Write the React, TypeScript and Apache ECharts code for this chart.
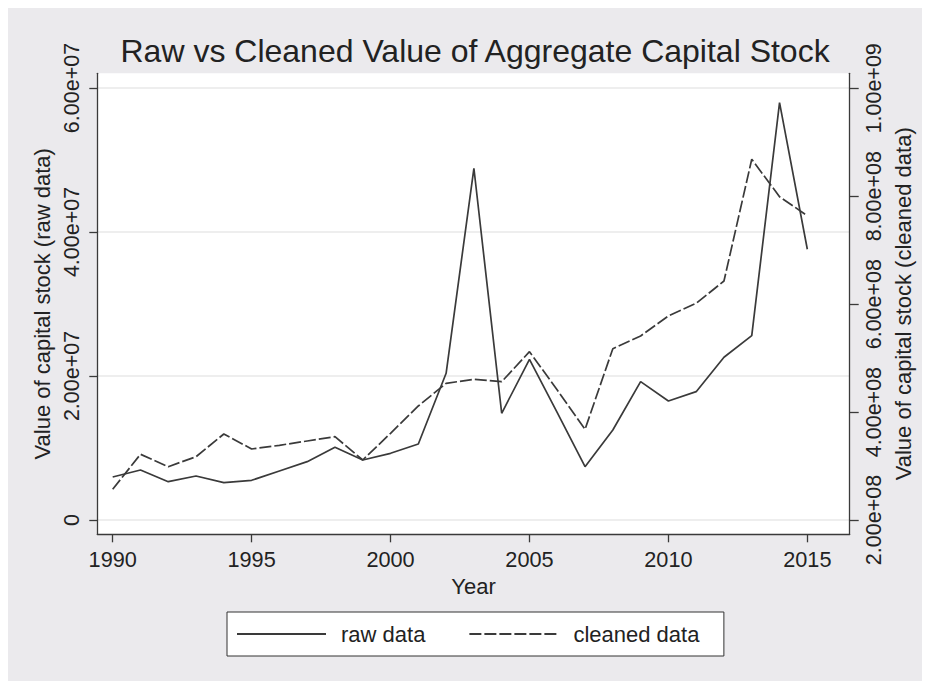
import React, { useEffect, useRef } from "react";
import * as echarts from "echarts";

const years = [1990, 1991, 1992, 1993, 1994, 1995, 1996, 1997, 1998, 1999, 2000, 2001, 2002, 2003, 2004, 2005, 2006, 2007, 2008, 2009, 2010, 2011, 2012, 2013, 2014, 2015];

const rawData = [5.97e6, 6.94e6, 5.32e6, 6.11e6, 5.18e6, 5.51e6, 6.81e6, 8.1e6, 10.1e6, 8.33e6, 9.26e6, 10.56e6, 20.37e6, 48.85e6, 14.82e6, 22.32e6, 14.9e6, 7.4e6, 12.5e6, 19.21e6, 16.53e6, 17.82e6, 22.6e6, 25.6e6, 57.96e6, 37.6e6];

const cleanedData = [2.569e8, 3.218e8, 2.988e8, 3.173e8, 3.594e8, 3.316e8, 3.384e8, 3.464e8, 3.544e8, 3.112e8, 3.607e8, 4.113e8, 4.533e8, 4.607e8, 4.563e8, 5.119e8, 4.409e8, 3.681e8, 5.175e8, 5.41e8, 5.781e8, 6.016e8, 6.429e8, 8.685e8, 7.991e8, 7.639e8];

const xTicks = [1990, 1995, 2000, 2005, 2010, 2015];
const leftTicks = [0, 2e7, 4e7, 6e7];
const leftTickLabels = ["0", "2.00e+07", "4.00e+07", "6.00e+07"];
const rightTicks = [2e8, 4e8, 6e8, 8e8, 1e9];
const rightTickLabels = ["2.00e+08", "4.00e+08", "6.00e+08", "8.00e+08", "1.00e+09"];

const seriesNames = ["raw data", "cleaned data"];
const titleText = "Raw vs Cleaned Value of Aggregate Capital Stock";
const xTitle = "Year";
const leftTitle = "Value of capital stock (raw data)";
const rightTitle = "Value of capital stock (cleaned data)";

const FONT = "'Liberation Sans', Arial, Helvetica, sans-serif";
const TEXT = "#222222";
const AXIS = "#3a3a3a";
const LINE = "#3a3a3a";

function labelFor(ticks: number[], labels: string[]) {
  return (v: number) => {
    const i = ticks.findIndex((t) => Math.abs(t - v) < Math.abs(t) * 1e-9 + 1e-6);
    return i >= 0 ? labels[i] : "";
  };
}

export default function App() {
  const ref = useRef<HTMLDivElement>(null);
  useEffect(() => {
    if (!ref.current) return;
    const chart = echarts.init(ref.current, undefined, { renderer: "svg" });
    const option: any = {
      animation: false,
      backgroundColor: "#ebeaed",
      textStyle: { fontFamily: FONT },
      title: {
        text: titleText,
        left: 112.5,
        top: 27.3,
        padding: 0,
        textStyle: { fontFamily: FONT, fontSize: 32, fontWeight: "normal", color: TEXT },
      },
      grid: {
        left: 89.3,
        right: 80.3,
        top: 65.3,
        bottom: 146.7,
        show: true,
        backgroundColor: "#ffffff",
        borderWidth: 0,
        outerBoundsMode: "none",
        containLabel: false,
      },
      legend: {
        left: 219,
        top: 604,
        orient: "horizontal",
        data: seriesNames,
        itemWidth: 89,
        itemHeight: 14,
        itemGap: 43,
        padding: [11, 24.5, 11, 9],
        backgroundColor: "#ffffff",
        borderColor: "#333333",
        borderWidth: 1,
        borderRadius: 0,
        itemStyle: { opacity: 0, borderWidth: 0 },
        textStyle: { fontFamily: FONT, fontSize: 22, color: TEXT, lineHeight: 22, padding: [0, 0, 0, 10] },
        selectedMode: false,
      },
      xAxis: {
        type: "value",
        min: 1989.446,
        max: 2016.525,
        name: xTitle,
        nameLocation: "middle",
        nameGap: 40,
        nameTextStyle: { fontFamily: FONT, fontSize: 22, color: TEXT },
        axisLine: { show: true, onZero: false, lineStyle: { color: AXIS, width: 1.3 } },
        axisTick: { show: true, customValues: xTicks, length: 8, lineStyle: { color: AXIS, width: 1.3 } },
        axisLabel: {
          customValues: xTicks,
          formatter: (v: number) => String(v),
          fontFamily: FONT,
          fontSize: 21.7,
          color: TEXT,
          margin: 14,
        },
        splitLine: { show: false },
      },
      yAxis: [
        {
          type: "value",
          position: "left",
          min: -1.99e6,
          max: 6.204e7,
          name: leftTitle,
          nameLocation: "middle",
          nameRotate: 90,
          nameGap: 49,
          nameTextStyle: { fontFamily: FONT, fontSize: 22, color: TEXT, align: "center", verticalAlign: "middle" },
          axisLine: { show: true, onZero: false, lineStyle: { color: AXIS, width: 1.3 } },
          axisTick: { show: true, customValues: leftTicks, length: 8, lineStyle: { color: AXIS, width: 1.3 } },
          axisLabel: {
            customValues: leftTicks,
            formatter: labelFor(leftTicks, leftTickLabels),
            rotate: 90,
            align: "center",
            verticalAlign: "middle",
            fontFamily: FONT,
            fontSize: 21.5,
            color: TEXT,
            margin: 25.3,
          },
          splitLine: { show: true, lineStyle: { color: "#e8e8e8", width: 1.5 } },
        },
        {
          type: "value",
          position: "right",
          min: 1.735e8,
          max: 10.278e8,
          name: rightTitle,
          nameLocation: "middle",
          nameRotate: 90,
          nameGap: 51.8,
          nameTextStyle: { fontFamily: FONT, fontSize: 22, color: TEXT, align: "center", verticalAlign: "middle" },
          axisLine: { show: true, onZero: false, lineStyle: { color: AXIS, width: 1.3 } },
          axisTick: { show: true, customValues: rightTicks, length: 9, lineStyle: { color: AXIS, width: 1.3 } },
          axisLabel: {
            customValues: rightTicks,
            formatter: labelFor(rightTicks, rightTickLabels),
            rotate: 90,
            align: "center",
            verticalAlign: "middle",
            fontFamily: FONT,
            fontSize: 21.5,
            color: TEXT,
            margin: 23.9,
          },
          splitLine: { show: false },
        },
      ],
      series: [
        {
          name: seriesNames[0],
          type: "line",
          yAxisIndex: 0,
          symbol: "none",
          showSymbol: false,
          data: years.map((y, i) => [y, rawData[i]]),
          lineStyle: { color: LINE, width: 1.7, type: "solid" },
          itemStyle: { color: LINE },
          z: 3,
        },
        {
          name: seriesNames[1],
          type: "line",
          yAxisIndex: 1,
          symbol: "none",
          showSymbol: false,
          data: years.map((y, i) => [y, cleanedData[i]]),
          lineStyle: { color: LINE, width: 1.7, type: [12, 3] },
          itemStyle: { color: LINE },
          z: 2,
        },
      ],
    };
    chart.setOption(option);
    return () => chart.dispose();
  }, []);
  return <div ref={ref} style={{ width: 922, height: 673 }} />;
}
